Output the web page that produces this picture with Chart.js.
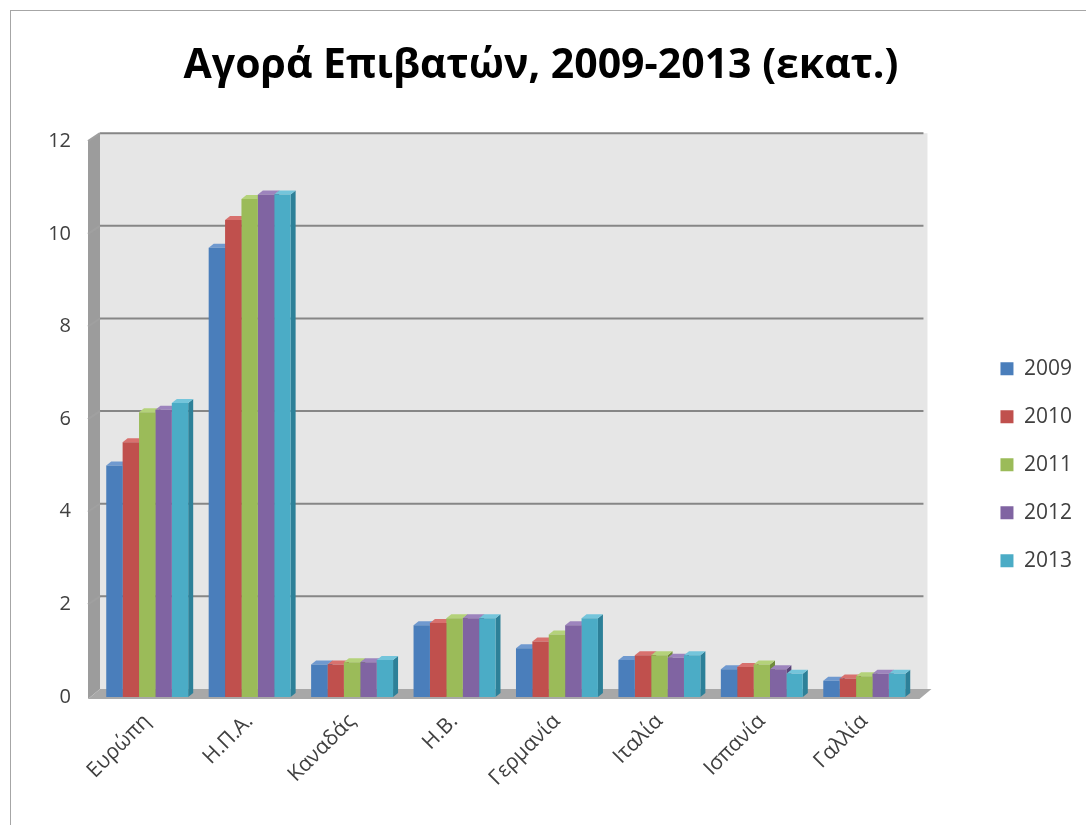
<!DOCTYPE html>
<html>
<head>
<meta charset="utf-8">
<script src="https://cdn.jsdelivr.net/npm/chart.js@4.4.0/dist/chart.umd.min.js"></script>
<style>
  html, body { margin: 0; padding: 0; background: #fff; }
  #wrap { position: relative; width: 1086px; height: 825px; }
  #frame { position: absolute; left: 10px; top: 10px; width: 1080px; height: 820px; border: 1px solid #a6a6a6; pointer-events: none; }
</style>
</head>
<body>
<div id="wrap">
  <canvas id="chart" width="1086" height="825"></canvas>
  <div id="frame"></div>
</div>
<script>
const countries = ['Ευρώπη', 'Η.Π.Α.', 'Καναδάς', 'Η.Β.', 'Γερμανία', 'Ιταλία', 'Ισπανία', 'Γαλλία'];
const years = ['2009', '2010', '2011', '2012', '2013'];

const v2009 = [5.0, 9.7, 0.7, 1.55, 1.05, 0.8, 0.6, 0.35];
const v2010 = [5.5, 10.3, 0.7, 1.6, 1.2, 0.9, 0.65, 0.4];
const v2011 = [6.15, 10.75, 0.75, 1.7, 1.35, 0.9, 0.7, 0.45];
const v2012 = [6.2, 10.85, 0.75, 1.7, 1.55, 0.85, 0.6, 0.5];
const v2013 = [6.35, 10.85, 0.8, 1.7, 1.7, 0.9, 0.5, 0.5];

const yTicks = [0, 2, 4, 6, 8, 10, 12];

const fronts = ['#4a7ebb', '#c0504d', '#9bbb59', '#8064a2', '#4bacc6'];
const sides = ['#2c5a8f', '#8e3431', '#6f8a3a', '#5a4478', '#2d8098'];
const tops = ['#6f99cf', '#d8716e', '#b4d27a', '#9d84bd', '#74c5db'];

const FONT = "'Open Sans', 'Noto Sans', sans-serif";

// 3D look: walls, floor, back gridlines, bar sides and tops
const depthPlugin = {
  id: 'depth',
  beforeDatasetsDraw(chart) {
    const ctx = chart.ctx;
    const a = chart.chartArea;
    const ys = chart.scales.y;
    const dx = 12, dy = 8, fx = 8;
    ctx.save();
    // back wall
    ctx.fillStyle = '#e6e6e6';
    ctx.fillRect(a.left - fx + dx, a.top - dy, a.right - a.left + 8, a.bottom - a.top);
    // left wall
    ctx.fillStyle = '#9c9c9c';
    ctx.beginPath();
    ctx.moveTo(a.left - fx, a.top);
    ctx.lineTo(a.left - fx + dx, a.top - dy);
    ctx.lineTo(a.left - fx + dx, a.bottom - dy);
    ctx.lineTo(a.left - fx, a.bottom + 2);
    ctx.closePath();
    ctx.fill();
    // floor
    ctx.fillStyle = '#a8a8a8';
    ctx.beginPath();
    ctx.moveTo(a.left - fx, a.bottom + 2);
    ctx.lineTo(a.left - fx + dx, a.bottom - dy);
    ctx.lineTo(a.right + 16, a.bottom - dy);
    ctx.lineTo(a.right + 4, a.bottom + 2);
    ctx.closePath();
    ctx.fill();
    // gridlines on back wall
    ctx.lineWidth = 2;
    yTicks.forEach(function (t) {
      if (t === 0) return;
      const y = ys.getPixelForValue(t) - dy;
      ctx.strokeStyle = '#868686';
      ctx.beginPath();
      ctx.moveTo(a.left - fx + dx, y);
      ctx.lineTo(a.right + 8, y);
      ctx.stroke();
      ctx.strokeStyle = '#a0a0a0';
      ctx.beginPath();
      ctx.moveTo(a.left - fx, y + dy);
      ctx.lineTo(a.left - fx + dx, y);
      ctx.stroke();
    });
    // bar sides and tops
    const bd = 5, bh = 4;
    for (let j = 0; j < countries.length; j++) {
      for (let i = 0; i < years.length; i++) {
        const bar = chart.getDatasetMeta(i).data[j];
        const l = bar.x - bar.width / 2, r = bar.x + bar.width / 2;
        ctx.fillStyle = sides[i];
        ctx.beginPath();
        ctx.moveTo(r, bar.y);
        ctx.lineTo(r + bd, bar.y - bh);
        ctx.lineTo(r + bd, bar.base - bh);
        ctx.lineTo(r, bar.base);
        ctx.closePath();
        ctx.fill();
        ctx.fillStyle = tops[i];
        ctx.beginPath();
        ctx.moveTo(l, bar.y);
        ctx.lineTo(l + bd, bar.y - bh);
        ctx.lineTo(r + bd, bar.y - bh);
        ctx.lineTo(r, bar.y);
        ctx.closePath();
        ctx.fill();
      }
    }
    ctx.restore();
  }
};

const ctx = document.getElementById('chart');
const chart = new Chart(ctx, {
  type: 'bar',
  data: {
    labels: countries,
    datasets: [
      { label: years[0], data: v2009, backgroundColor: fronts[0] },
      { label: years[1], data: v2010, backgroundColor: fronts[1] },
      { label: years[2], data: v2011, backgroundColor: fronts[2] },
      { label: years[3], data: v2012, backgroundColor: fronts[3] },
      { label: years[4], data: v2013, backgroundColor: fronts[4] }
    ]
  },
  options: {
    responsive: false,
    animation: false,
    datasets: {
      bar: {
        categoryPercentage: 0.8,
        barPercentage: 1.0,
        borderWidth: 0
      }
    },
    layout: {
      padding: { left: 0, right: 4, top: 0, bottom: 10 }
    },
    plugins: {
      title: {
        display: true,
        text: 'Αγορά Επιβατών, 2009-2013 (εκατ.)',
        color: '#000',
        font: { family: FONT, size: 41, weight: 'bold' },
        padding: { top: 42, bottom: 50 }
      },
      legend: {
        position: 'right',
        title: {
          display: true,
          text: ' ',
          font: { size: 12 },
          padding: { top: 50, bottom: 50 }
        },
        labels: {
          boxWidth: 13,
          boxHeight: 13,
          padding: 27,
          color: '#404040',
          font: { family: FONT, size: 21 }
        }
      },
      tooltip: { enabled: false }
    },
    scales: {
      x: {
        offset: true,
        grid: { display: false, drawTicks: false },
        border: { display: false },
        ticks: {
          color: '#404040',
          font: { family: FONT, size: 21 },
          maxRotation: 45,
          minRotation: 45,
          padding: 12
        },
        afterFit(s) { s.height = 118; }
      },
      y: {
        min: 0,
        max: 12,
        grid: { display: false, drawTicks: false },
        border: { display: false },
        afterBuildTicks(s) { s.ticks = yTicks.map(function (v) { return { value: v }; }); },
        ticks: {
          color: '#404040',
          font: { family: FONT, size: 20 },
          padding: 25
        },
        afterFit(s) { s.width = 96; }
      },
      yR: {
        position: 'right',
        display: true,
        grid: { display: false, drawTicks: false },
        border: { display: false },
        ticks: { display: false },
        afterFit(s) { s.width = 58; }
      }
    }
  },
  plugins: [depthPlugin]
});
</script>
</body>
</html>
